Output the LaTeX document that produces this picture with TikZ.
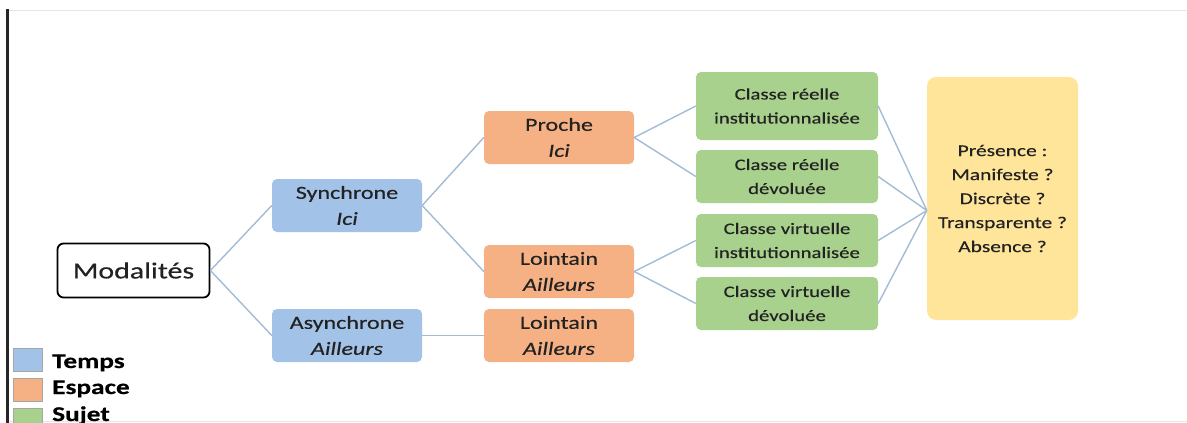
\documentclass[tikz,border=0pt]{standalone}
\usepackage{fontspec}
\setmainfont{Carlito}[FakeStretch=1.3, FakeBold=0.35]
\definecolor{tblue}{HTML}{A2C2E8}
\definecolor{torange}{HTML}{F5B183}
\definecolor{tgreen}{HTML}{A8D18D}
\definecolor{tyellow}{HTML}{FFE59A}
\definecolor{conn}{HTML}{A3BCD5}
\definecolor{txt}{HTML}{222222}
\begin{document}
\begin{tikzpicture}[x=1pt,y=-1pt,
  box/.style={rounded corners=5pt, align=center, inner sep=0pt, text=txt},
  tbox/.style={box, fill=tblue, minimum width=150pt, minimum height=53pt, font=\fontsize{18.5}{26}\selectfont},
  obox/.style={box, fill=torange, minimum width=150pt, minimum height=53pt, font=\fontsize{18.5}{26}\selectfont},
  gbox/.style={box, fill=tgreen, minimum width=182pt, font=\fontsize{16}{24}\selectfont},
  link/.style={draw=conn, line width=1.4pt},
  legsq/.style={draw=gray!70, line width=0.8pt, minimum width=29pt, minimum height=23pt, inner sep=0pt},
  legtxt/.style={anchor=base west, inner sep=0pt, font=\bfseries\fontsize{21}{24}\selectfont, text=black}
]
\useasboundingbox (0,0) rectangle (1187,423);
\fill[white] (0,0) rectangle (1187,423);
% frame
\draw[gray!20, line width=1pt] (8,10) -- (1187,10);
\draw[gray!20, line width=1pt] (8,421.5) -- (1187,421.5);
\draw[black!85, line width=3pt] (7,9) -- (7,423);

% nodes
\node[box, draw=black, line width=1.8pt, rounded corners=6pt, minimum width=152pt, minimum height=54pt, font=\fontsize{23}{28}\selectfont] (mod) at (133.5,270.5) {Modalités};
\node[tbox] (syn) at (347,205.5) {Synchrone\\\textit{Ici}};
\node[tbox] (asy) at (347,335.5) {Asynchrone\\\textit{Ailleurs}};
\node[obox] (pro) at (559,137.5) {Proche\\\textit{Ici}};
\node[obox] (loi) at (559,271.5) {Lointain\\\textit{Ailleurs}};
\node[obox] (loib) at (559,335.5) {Lointain\\\textit{Ailleurs}};
\node[gbox, minimum height=68pt] (cri) at (787,106) {Classe réelle\\institutionnalisée};
\node[gbox, minimum height=53pt] (crd) at (787,176.5) {Classe réelle\\dévoluée};
\node[gbox, minimum height=53pt] (cvi) at (787,240.5) {Classe virtuelle\\institutionnalisée};
\node[gbox, minimum height=53pt] (cvd) at (787,303.5) {Classe virtuelle\\dévoluée};
\node[box, fill=tyellow, rounded corners=9pt, minimum width=151pt, minimum height=243pt, font=\fontsize{16.5}{24}\selectfont] (pres) at (1002.5,198.5) {Présence :\\Manifeste ?\\Discrète ?\\Transparente ?\\Absence ?};
\coordinate (conv) at ([yshift=-12pt]pres.west);

% connectors
\draw[link] (mod.east) -- (syn.west);
\draw[link] (mod.east) -- (asy.west);
\draw[link] (syn.east) -- (pro.west);
\draw[link] (syn.east) -- (loi.west);
\draw[link] (asy.east) -- (loib.west);
\draw[link] (pro.east) -- (cri.west);
\draw[link] (pro.east) -- (crd.west);
\draw[link] (loi.east) -- (cvi.west);
\draw[link] (loi.east) -- (cvd.west);
\draw[link] (cri.east) -- (conv);
\draw[link] (crd.east) -- (conv);
\draw[link] (cvi.east) -- (conv);
\draw[link] (cvd.east) -- (conv);

% legend
\node[legsq, fill=tblue] (lt) at (27.5,359.5) {};
\node[legsq, fill=torange] (le) at (27.5,389.5) {};
\node[legsq, fill=tgreen] (ls) at (27.5,419.5) {};
\node[legtxt] (ltt) at (52,368) {Temps};
\node[legtxt] (let) at (52,394) {Espace};
\node[legtxt] (lst) at (52,421) {Sujet};
\end{tikzpicture}
\end{document}
